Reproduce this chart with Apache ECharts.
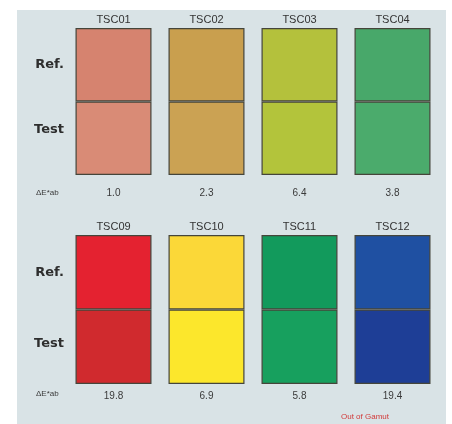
<!DOCTYPE html>
<html>
<head>
<meta charset="utf-8">
<script src="https://cdn.jsdelivr.net/npm/echarts@6/dist/echarts.min.js"></script>
<style>
html,body{margin:0;padding:0;background:#ffffff;}
#c{width:452px;height:424px;}
</style>
</head>
<body>
<div id="c"></div>
<script>
// Data
const topPatches = ['TSC01', 'TSC02', 'TSC03', 'TSC04'];
const topDeltaE = ['1.0', '2.3', '6.4', '3.8'];
const topRefColors = ['#d6836f', '#c99f4e', '#b4c13c', '#48a86a'];
const topTestColors = ['#d98b76', '#cba253', '#b3c43b', '#4bab6c'];

const botPatches = ['TSC09', 'TSC10', 'TSC11', 'TSC12'];
const botDeltaE = ['19.8', '6.9', '5.8', '19.4'];
const botRefColors = ['#e42230', '#fbd838', '#129a5c', '#1f50a2'];
const botTestColors = ['#d02a2e', '#fce72c', '#17a05e', '#1e3e96'];

const rowLabels = ['Test', 'Ref.'];
const deltaLabel = '\u0394E*ab';
const noteText = 'Out of Gamut';

const chart = echarts.init(document.getElementById('c'), null, {renderer: 'canvas'});
const border = '#45453a';
const font = 'Liberation Sans Narrow, Liberation Sans, DejaVu Sans, sans-serif';

function bars(colors, gridIdx, name) {
  return {
    type: 'bar', name: name, stack: 's' + gridIdx,
    xAxisIndex: gridIdx * 2, yAxisIndex: gridIdx,
    barWidth: 76,
    data: colors.map(c => ({value: 1, itemStyle: {color: c}})),
    itemStyle: {borderColor: border, borderWidth: 1.2},
    silent: true
  };
}

function xTop(cats, gridIdx) {
  return {
    type: 'category', gridIndex: gridIdx, data: cats, position: 'top',
    axisLine: {show: false}, axisTick: {show: false},
    axisLabel: {color: '#333333', fontSize: 11, fontFamily: font, margin: 3}
  };
}
function xBot(vals, gridIdx, margin) {
  return {
    type: 'category', gridIndex: gridIdx, data: vals, position: 'bottom',
    axisLine: {show: false}, axisTick: {show: false},
    axisLabel: {color: '#3a3a3a', fontSize: 10, fontFamily: font, margin: margin}
  };
}
function yAx(gridIdx, testShift) {
  return {
    type: 'value', gridIndex: gridIdx, min: 0, max: 2, interval: 0.5,
    splitLine: {show: false}, axisLine: {show: false}, axisTick: {show: false},
    axisLabel: {
      color: '#2e2e2e', fontSize: 13, fontWeight: 'bold', fontFamily: 'DejaVu Sans, sans-serif', margin: 3,
      formatter: v => v === 1.5 ? rowLabels[1] : (v === 0.5 ? '{t|' + rowLabels[0] + '}' : ''),
      rich: {t: {fontSize: 13, fontWeight: 'bold', color: '#2e2e2e', fontFamily: 'DejaVu Sans, sans-serif', padding: [0, 0, testShift * 2, 0]}}
    }
  };
}

chart.setOption({
  backgroundColor: '#ffffff',
  animation: false,
  graphic: [
    {type: 'rect', shape: {x: 17, y: 10, width: 429, height: 414}, style: {fill: '#d9e3e6'}, z: -10},
    {type: 'text', left: 36, top: 189, style: {text: deltaLabel, fill: '#3a3a3a', fontSize: 8, fontFamily: font}},
    {type: 'text', left: 36, top: 390, style: {text: deltaLabel, fill: '#3a3a3a', fontSize: 8, fontFamily: font}},
    {type: 'text', left: 341, top: 413, style: {text: noteText, fill: '#d23a3a', fontSize: 8, fontFamily: font}}
  ],
  grid: [
    {left: 67, width: 372, top: 28, height: 147},
    {left: 67, width: 372, top: 235, height: 149}
  ],
  xAxis: [xTop(topPatches, 0), xBot(topDeltaE, 0, 13), xTop(botPatches, 1), xBot(botDeltaE, 1, 7)],
  yAxis: [yAx(0, 9), yAx(1, 3)],
  series: [
    bars(topTestColors, 0, rowLabels[0]),
    bars(topRefColors, 0, rowLabels[1]),
    bars(botTestColors, 1, rowLabels[0]),
    bars(botRefColors, 1, rowLabels[1])
  ]
});
</script>
</body>
</html>
